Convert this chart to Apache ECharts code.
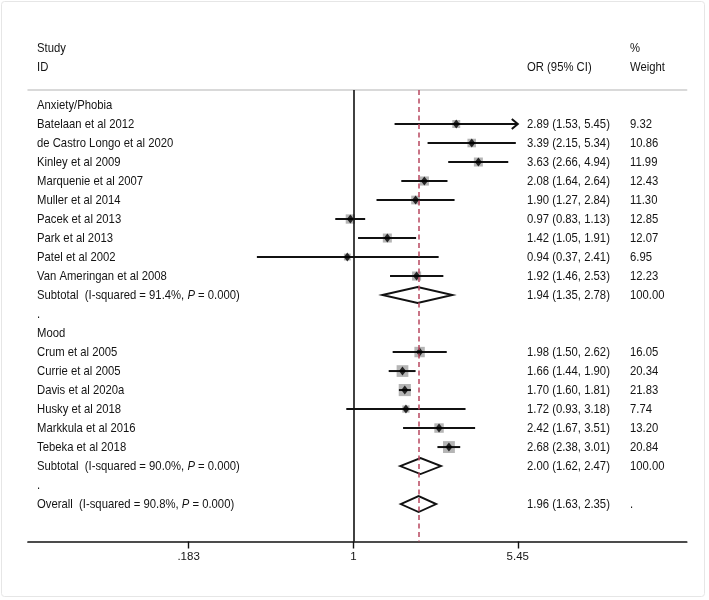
<!DOCTYPE html>
<html>
<head>
<meta charset="utf-8">
<script src="https://cdn.jsdelivr.net/npm/echarts@6/dist/echarts.min.js"></script>
<style>
html,body{margin:0;padding:0;background:#fff;}
#chart{width:709px;height:600px;}
</style>
</head>
<body>
<div id="chart"></div>
<script>
// ---------------- data ----------------
const groupNames = ["Anxiety/Phobia", "Mood"];

const anxietyStudies = ["Batelaan et al 2012", "de Castro Longo et al 2020", "Kinley et al 2009",
  "Marquenie et al 2007", "Muller et al 2014", "Pacek et al 2013", "Park et al 2013",
  "Patel et al 2002", "Van Ameringan et al 2008"];
const anxietyOR     = [2.89, 3.39, 3.63, 2.08, 1.90, 0.97, 1.42, 0.94, 1.92];
const anxietyLow    = [1.53, 2.15, 2.66, 1.64, 1.27, 0.83, 1.05, 0.37, 1.46];
const anxietyHigh   = [5.45, 5.34, 4.94, 2.64, 2.84, 1.13, 1.91, 2.41, 2.53];
const anxietyWeight = [9.32, 10.86, 11.99, 12.43, 11.30, 12.85, 12.07, 6.95, 12.23];

const moodStudies = ["Crum et al 2005", "Currie et al 2005", "Davis et al 2020a",
  "Husky et al 2018", "Markkula et al 2016", "Tebeka et al 2018"];
const moodOR     = [1.98, 1.66, 1.70, 1.72, 2.42, 2.68];
const moodLow    = [1.50, 1.44, 1.60, 0.93, 1.67, 2.38];
const moodHigh   = [2.62, 1.90, 1.81, 3.18, 3.51, 3.01];
const moodWeight = [16.05, 20.34, 21.83, 7.74, 13.20, 20.84];

const subtotalI2     = ["91.4%", "90.0%"];
const subtotalP      = ["0.000", "0.000"];
const subtotalOR     = [1.94, 2.00];
const subtotalLow    = [1.35, 1.62];
const subtotalHigh   = [2.78, 2.47];
const subtotalWeight = ["100.00", "100.00"];

const overallI2 = "90.8%";
const overallP = "0.000";
const overallOR = 1.96;
const overallLow = 1.63;
const overallHigh = 2.35;
const overallWeight = ".";

// CI truncated at the plotted range (drawn with an arrow)
const truncatedStudies = ["Batelaan et al 2012"];

const tickValues = [0.183, 1, 5.45];
const tickLabels = [".183", "1", "5.45"];
const nullValue = 1;

// ---------------- build rows ----------------
const ln = Math.log;
const FONT = '"Liberation Sans", Arial, Helvetica, sans-serif';
const fmt = v => v.toFixed(2);

const textRows = [];
const studyPts = [];   // [lnOR, row, weight]
const ciLines = [];    // [lnLow, lnHigh, row, arrow]
const pooled = [];     // [lnLow, lnOR, lnHigh, row]

textRows.push({row: -3, left: "Study", w: "%"});
textRows.push({row: -2, left: "ID", or: "OR (95% CI)", w: "Weight"});

let row = 0;
const groups = [
  [anxietyStudies, anxietyOR, anxietyLow, anxietyHigh, anxietyWeight],
  [moodStudies, moodOR, moodLow, moodHigh, moodWeight]
];
groups.forEach((g, gi) => {
  const [names, or, lo, hi, wt] = g;
  textRows.push({row: row, left: groupNames[gi]});
  row++;
  names.forEach((n, i) => {
    textRows.push({row: row, left: n, or: fmt(or[i]) + " (" + fmt(lo[i]) + ", " + fmt(hi[i]) + ")", w: fmt(wt[i])});
    studyPts.push([ln(or[i]), row, wt[i]]);
    ciLines.push([ln(lo[i]), ln(hi[i]), row, truncatedStudies.indexOf(n) >= 0 ? 1 : 0]);
    row++;
  });
  textRows.push({row: row, left: "Subtotal  (I-squared = " + subtotalI2[gi] + ", {i|P} = " + subtotalP[gi] + ")",
    or: fmt(subtotalOR[gi]) + " (" + fmt(subtotalLow[gi]) + ", " + fmt(subtotalHigh[gi]) + ")", w: subtotalWeight[gi]});
  pooled.push([ln(subtotalLow[gi]), ln(subtotalOR[gi]), ln(subtotalHigh[gi]), row]);
  row++;
  textRows.push({row: row, left: "."});
  row++;
});
textRows.push({row: row, left: "Overall  (I-squared = " + overallI2 + ", {i|P} = " + overallP + ")",
  or: fmt(overallOR) + " (" + fmt(overallLow) + ", " + fmt(overallHigh) + ")", w: overallWeight});
pooled.push([ln(overallLow), ln(overallOR), ln(overallHigh), row]);

// ---------------- chart ----------------
const chart = echarts.init(document.getElementById('chart'), null, {renderer: 'canvas'});

const FS = 11.3, SY = 1.2, TXT = '#141414';
function txt(x, y, s) {
  return {
    type: 'text', x: x, y: y, scaleY: SY,
    style: {
      x: 0, y: 0, text: s, fill: TXT, fontSize: FS, fontFamily: FONT,
      align: 'left', verticalAlign: 'middle',
      rich: { i: { fontStyle: 'italic', fontSize: FS, fontFamily: FONT, fill: TXT } }
    }
  };
}

const xMin = -3.354, xMax = 3.437;

chart.setOption({
  animation: false,
  backgroundColor: '#ffffff',
  grid: { left: 28, right: 22.3, top: 90, bottom: 58.5, containLabel: false },
  xAxis: [{
    type: 'value', min: xMin, max: xMax, position: 'bottom',
    axisLine: { show: true, onZero: false, lineStyle: { color: '#111', width: 1.7 } },
    axisTick: { show: true, inside: false, length: 7, lineStyle: { color: '#111', width: 1.4 },
      customValues: tickValues.map(v => ln(v)) },
    axisLabel: { show: true, margin: 9, fontSize: 11.5, fontFamily: FONT, color: TXT,
      customValues: tickValues.map(v => ln(v)),
      formatter: function (v) {
        let best = 0;
        tickValues.forEach((t, i) => { if (Math.abs(ln(t) - v) < Math.abs(ln(tickValues[best]) - v)) best = i; });
        return tickLabels[best];
      } },
    splitLine: { show: false }
  }, {
    type: 'value', min: xMin, max: xMax, position: 'top',
    axisLine: { show: true, onZero: false, lineStyle: { color: '#cdcdcd', width: 1.5 } },
    axisTick: { show: false }, axisLabel: { show: false }, splitLine: { show: false }
  }],
  yAxis: {
    type: 'value', inverse: true, min: -0.79, max: 22.97,
    show: false, splitLine: { show: false }
  },
  graphic: [{
    type: 'rect', z: -10,
    shape: { x: 1.5, y: 1.5, width: 703, height: 595, r: 3 },
    style: { fill: 'none', stroke: '#e6e6e6', lineWidth: 1 }
  }],
  series: [
    // reference lines
    {
      type: 'scatter', data: [], z: 1,
      markLine: {
        silent: true, symbol: 'none', label: { show: false },
        data: [
          { xAxis: ln(nullValue), lineStyle: { color: '#111', width: 1.6, type: 'solid' } },
          { xAxis: ln(overallOR), lineStyle: { color: '#b8475f', width: 1.5, type: [5, 3.5] } }
        ]
      }
    },
    // weight squares
    {
      type: 'scatter', z: 2,
      data: studyPts,
      symbol: 'rect',
      symbolSize: function (v) { return 2.6 * Math.sqrt(v[2]); },
      itemStyle: { color: '#b5b5b5', opacity: 1 }
    },
    // CI lines
    {
      type: 'custom', z: 3,
      data: ciLines,
      renderItem: function (params, api) {
        const p1 = api.coord([api.value(0), api.value(2)]);
        const p2 = api.coord([api.value(1), api.value(2)]);
        const children = [{
          type: 'line', shape: { x1: p1[0], y1: p1[1], x2: p2[0], y2: p2[1] },
          style: { stroke: '#111', lineWidth: 2 }
        }];
        if (api.value(3)) {
          children.push({
            type: 'polyline',
            shape: { points: [[p2[0] - 6, p2[1] - 5], [p2[0], p2[1]], [p2[0] - 6, p2[1] + 5]] },
            style: { stroke: '#111', lineWidth: 2, fill: 'none' }
          });
        }
        return { type: 'group', children: children };
      }
    },
    // point estimates
    {
      type: 'scatter', z: 4,
      data: studyPts.map(p => [p[0], p[1]]),
      symbol: 'diamond', symbolSize: [7, 9],
      itemStyle: { color: '#000' }
    },
    // pooled diamonds
    {
      type: 'custom', z: 4,
      data: pooled,
      renderItem: function (params, api) {
        const y = api.value(3);
        const a = api.coord([api.value(0), y]);
        const c = api.coord([api.value(1), y]);
        const b = api.coord([api.value(2), y]);
        const h = 8;
        return {
          type: 'polygon',
          shape: { points: [[a[0], a[1]], [c[0], c[1] - h], [b[0], b[1]], [c[0], c[1] + h]] },
          style: { stroke: '#111', lineWidth: 1.9, fill: 'none' }
        };
      }
    },
    // text columns
    {
      type: 'custom', z: 5,
      data: textRows.map(r => [0, r.row]),
      renderItem: function (params, api) {
        const r = textRows[params.dataIndex];
        const y = api.coord([0, api.value(1)])[1];
        const children = [];
        if (r.left) children.push(txt(37, y, r.left));
        if (r.or) children.push(txt(527, y, r.or));
        if (r.w) children.push(txt(630, y, r.w));
        return { type: 'group', children: children };
      }
    }
  ]
});
</script>
</body>
</html>
